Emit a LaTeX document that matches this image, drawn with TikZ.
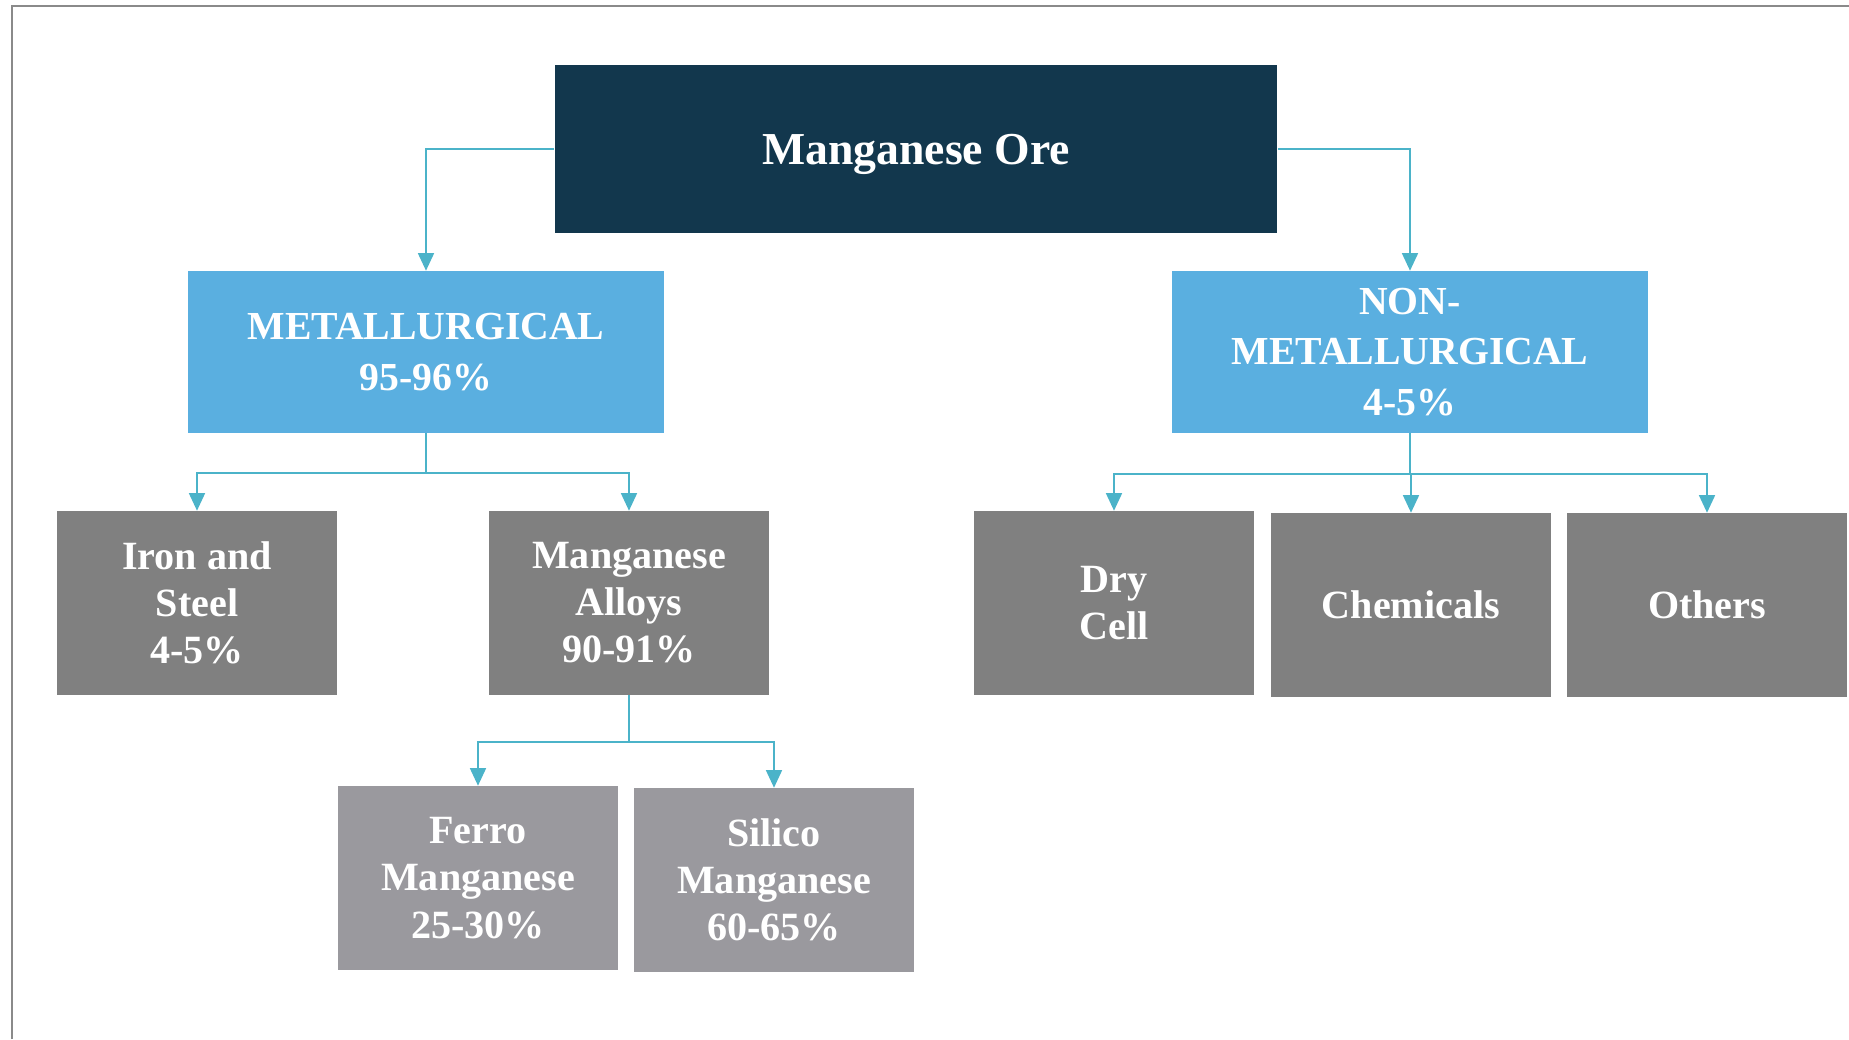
\documentclass[tikz,border=0pt]{standalone}
\usepackage{fontspec}
\setmainfont{Liberation Serif}
\usepackage{tikz}
\usetikzlibrary{arrows.meta,positioning,calc}
\definecolor{navy}{HTML}{12374D}
\definecolor{skyblue}{HTML}{5AAFE0}
\definecolor{midgray}{HTML}{808080}
\definecolor{lightgray}{HTML}{9A999E}
\definecolor{teal}{HTML}{4BB3C9}
\definecolor{framegray}{HTML}{8A8A8A}

\begin{document}
\begin{tikzpicture}[
        x=0.01cm, y=-0.01cm,
        orebox/.style={rectangle, fill=navy, text=white, minimum width=7.22cm, minimum height=1.67cm, text depth=0pt, align=center, font=\fontsize{13}{15}\selectfont\bfseries},
        catbox/.style={rectangle, fill=skyblue, text=white, minimum width=4.75cm, minimum height=1.61cm, align=center, font=\fontsize{11.3}{14.3}\selectfont\bfseries},
        usebox/.style={rectangle, fill=midgray, text=white, minimum width=2.79cm, minimum height=1.83cm, align=center, font=\fontsize{11.4}{13.4}\selectfont\bfseries},
        subbox/.style={usebox, fill=lightgray},
        conn/.style={draw=teal, line width=0.6pt, -{Triangle[width=4.5pt,length=5pt]}},
    ]
    \useasboundingbox (0,0) rectangle (1849,1039);

    % Frame
    \draw[framegray, line width=0.6pt] (12,1039) -- (12,6) -- (1849,6);

    % Root
    \node[orebox] (ore) at (916,149) {Manganese Ore};

    % Categories
    \node[catbox] (met) at (426,352) {METALLURGICAL\\95-96\%};
    \node[catbox] (nonmet) at (1410,352) {NON-\\METALLURGICAL\\4-5\%};

    % Uses
    \node[usebox] (iron) at (197,603) {Iron and\\Steel\\4-5\%};
    \node[usebox] (alloys) at (629,603) {Manganese\\Alloys\\90-91\%};
    \node[usebox] (drycell) at (1114,603) {Dry\\Cell};
    \node[usebox] (chem) at (1411,605) {Chemicals};
    \node[usebox] (others) at (1707,605) {Others};

    % Alloy types
    \node[subbox] (ferro) at (478,878) {Ferro\\Manganese\\25-30\%};
    \node[subbox] (silico) at (774,880) {Silico\\Manganese\\60-65\%};

    % Bus points
    \coordinate (metbus) at (426,473);
    \coordinate (nonmetbus) at (1410,474);
    \coordinate (alloybus) at (629,742);

    % Root to categories
    \draw[conn] (ore.west) -| (met.north);
    \draw[conn] (ore.east) -| (nonmet.north);

    % Metallurgical branch
    \draw[conn] (met.south) -- (metbus) -| (iron.north);
    \draw[conn] (metbus) -| (alloys.north);

    % Non-metallurgical branch
    \draw[conn] (nonmet.south) -- (nonmetbus) -| (drycell.north);
    \draw[conn] (nonmetbus) -| (chem.north);
    \draw[conn] (nonmetbus) -| (others.north);

    % Alloy branch
    \draw[conn] (alloys.south) -- (alloybus) -| (ferro.north);
    \draw[conn] (alloybus) -| (silico.north);

\end{tikzpicture}
\end{document}
